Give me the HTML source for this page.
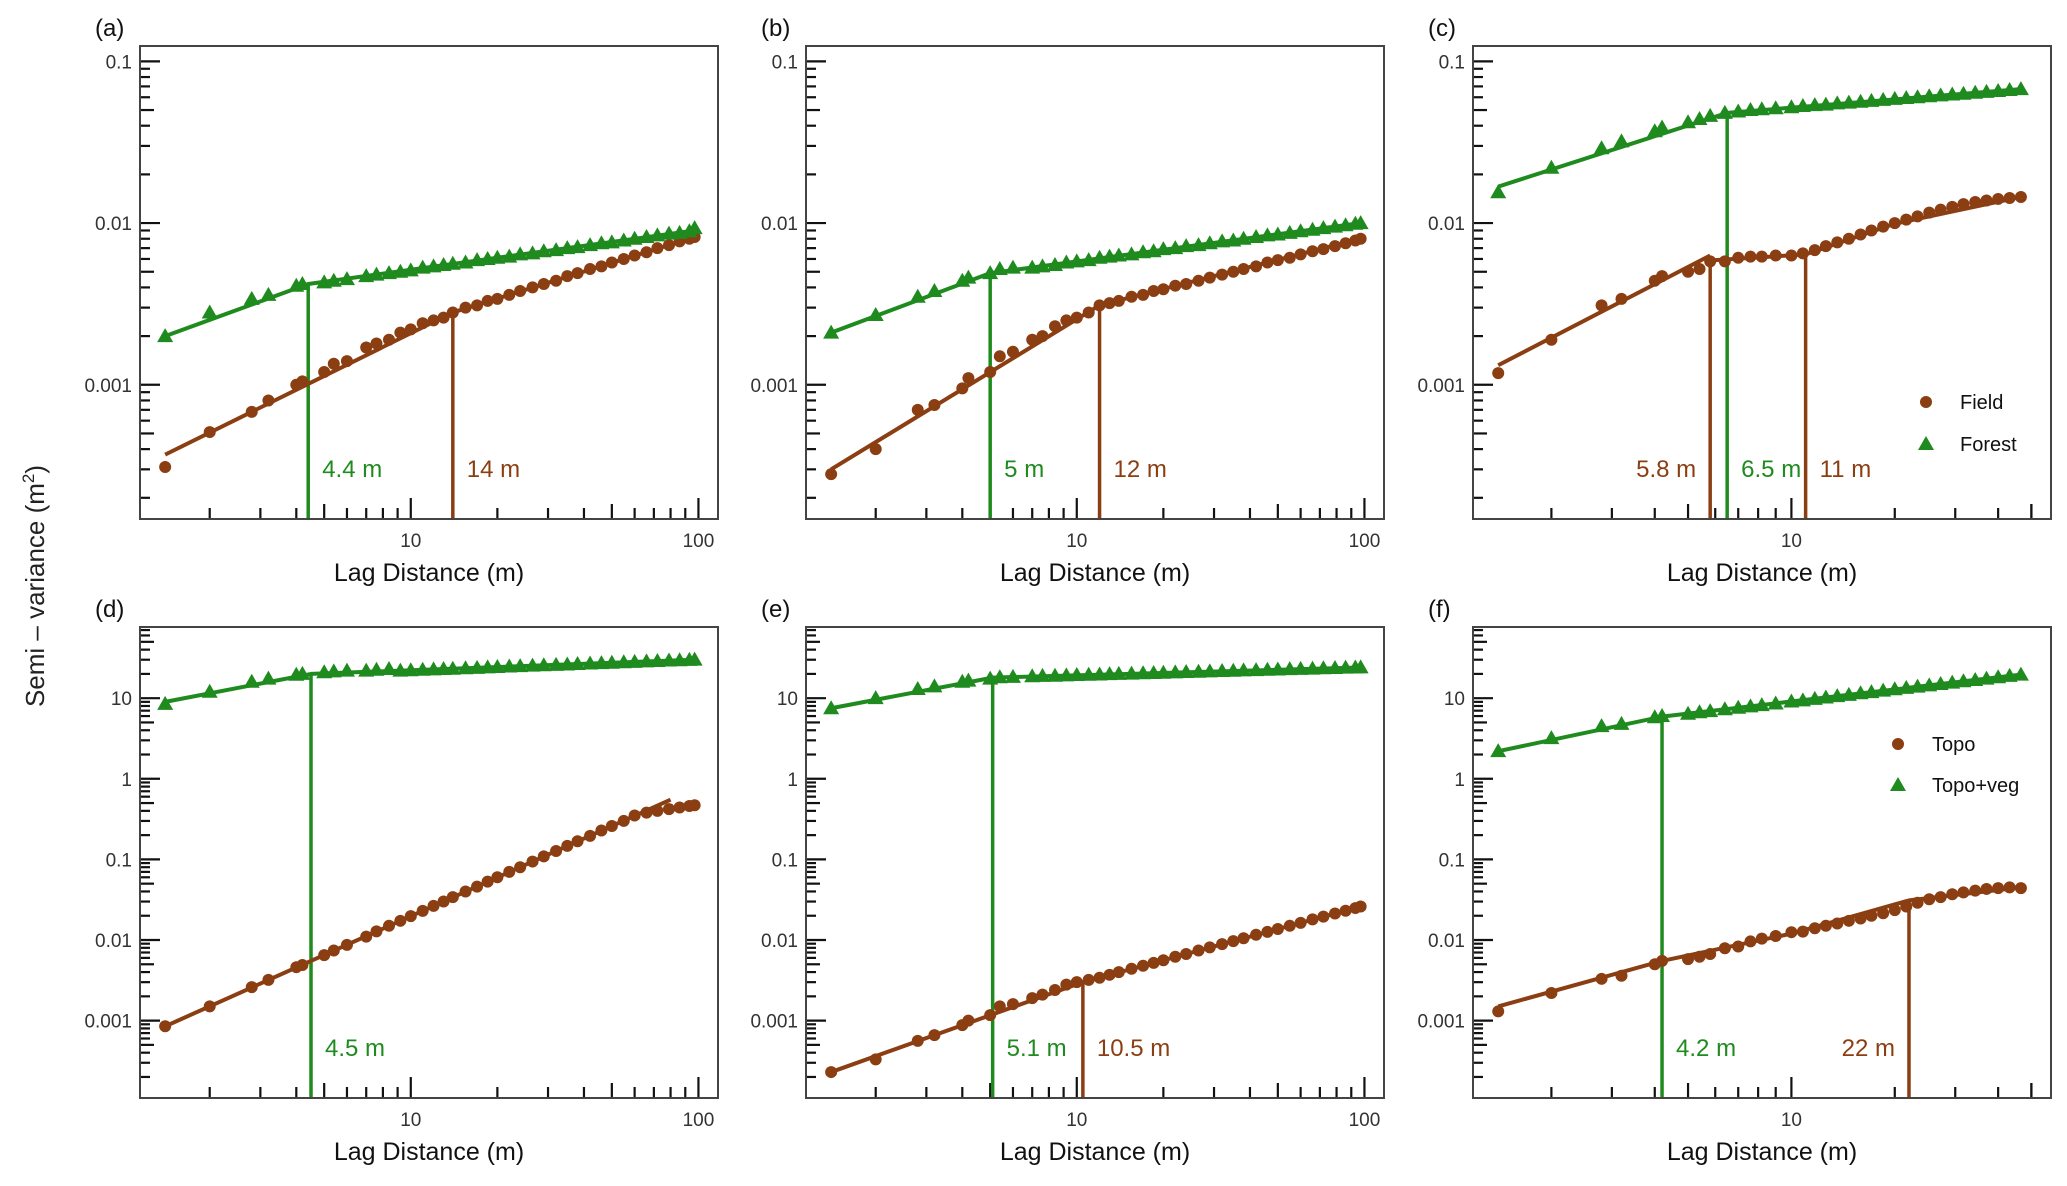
<!DOCTYPE html>
<html><head><meta charset="utf-8"><style>
html,body{margin:0;padding:0;background:#fff;}
svg{display:block;font-family:"Liberation Sans",Arial,sans-serif;}
</style></head><body>
<svg id="fig" width="2067" height="1186" viewBox="0 0 2067 1186" xmlns="http://www.w3.org/2000/svg">
<text x="0" y="0" transform="translate(44,586) rotate(-90)" text-anchor="middle" font-size="26" fill="#222">Semi – variance (m<tspan dy="-10" font-size="17">2</tspan><tspan dy="10">)</tspan></text>
</svg>
<script>
const L1 = [1.4,2,2.8,3.2,4,4.2,5,5.4,6,7,7.6,8.4,9.2,10,11,12,13,14,15.5,17,18.5,20,22,24,26.5,29,32,35,38,42,46,50,55,60,66,72,79,86,93,97];
const L2 = [1.4,2,2.8,3.2,4,4.2,5,5.4,5.8,6.4,7,7.6,8.2,9,10,10.8,11.7,12.6,13.6,14.7,15.9,17.1,18.5,20,21.6,23.3,25.2,27.2,29.4,31.7,34.3,37,40,43.2,46.6];

const aForest = [0.0020,0.0028,0.0034,0.0036,0.0041,0.0042,0.0043,0.0044,0.0045,0.0047,0.0048,0.0049,0.0050,0.0051,0.0053,0.0054,0.0055,0.0056,0.0057,0.0059,0.0060,0.0061,0.0062,0.0064,0.0065,0.0067,0.0068,0.0070,0.0071,0.0073,0.0075,0.0076,0.0078,0.0080,0.0082,0.0084,0.0086,0.0087,0.0089,0.0093];
const aField = [0.00031,0.00051,0.00068,0.0008,0.001,0.00105,0.0012,0.00135,0.0014,0.0017,0.0018,0.0019,0.0021,0.0022,0.0024,0.0025,0.0026,0.0028,0.0030,0.0031,0.0033,0.0034,0.0036,0.0038,0.0040,0.0042,0.0044,0.0047,0.0049,0.0052,0.0054,0.0057,0.0060,0.0063,0.0066,0.0070,0.0073,0.0077,0.0080,0.0082];
const bForest = [0.0021,0.0027,0.0035,0.0038,0.0044,0.0046,0.0049,0.0052,0.0053,0.0053,0.0054,0.0055,0.0057,0.0058,0.0059,0.0061,0.0062,0.0063,0.0064,0.0066,0.0067,0.0069,0.0070,0.0072,0.0073,0.0075,0.0077,0.0078,0.0080,0.0082,0.0084,0.0085,0.0087,0.0089,0.0091,0.0093,0.0095,0.0097,0.0099,0.0100];
const bField = [0.00028,0.0004,0.0007,0.00075,0.00095,0.0011,0.0012,0.0015,0.0016,0.0019,0.002,0.0023,0.0025,0.0026,0.0028,0.0031,0.0032,0.0033,0.0035,0.0036,0.0038,0.0039,0.0041,0.0042,0.0044,0.0046,0.0048,0.0050,0.0052,0.0054,0.0057,0.0059,0.0061,0.0064,0.0067,0.0069,0.0072,0.0075,0.0078,0.0080];
const cForest = [0.0155,0.022,0.029,0.032,0.037,0.039,0.042,0.044,0.046,0.048,0.049,0.050,0.0506,0.0513,0.052,0.053,0.0536,0.054,0.055,0.0556,0.0563,0.057,0.0578,0.0586,0.0593,0.060,0.0608,0.0616,0.0624,0.063,0.064,0.0648,0.0656,0.0665,0.0673];
const cField = [0.00118,0.0019,0.0031,0.0034,0.0044,0.0047,0.0050,0.0052,0.0058,0.0058,0.0061,0.0062,0.0062,0.0063,0.0063,0.0065,0.0068,0.0072,0.0076,0.0080,0.0085,0.0090,0.0095,0.0100,0.0105,0.0110,0.0116,0.0121,0.0126,0.0131,0.0135,0.0138,0.0141,0.0143,0.0145];
const dVeg = [8.5,12,16,17.5,19.5,20,21,21.5,22,22,22.5,23,22,22.2,22.5,22.8,23,23.2,23.5,23.8,24.1,24.4,24.7,25,25.3,25.6,25.9,26.2,26.5,26.9,27.2,27.5,27.9,28.2,28.6,28.9,29.3,29.6,29.9,30.1];
const dTopo = [0.00085,0.0015,0.0026,0.0032,0.0046,0.0049,0.0065,0.0074,0.0087,0.011,0.0128,0.015,0.0173,0.0198,0.023,0.0265,0.030,0.034,0.040,0.046,0.053,0.060,0.070,0.080,0.094,0.109,0.127,0.147,0.168,0.196,0.228,0.26,0.30,0.35,0.38,0.40,0.42,0.44,0.46,0.47];
const eVeg = [7.5,10,13,14,16,16.5,17.5,18.2,18.4,18.7,18.9,19.0,19.2,19.4,19.5,19.7,19.9,20.0,20.2,20.4,20.5,20.7,20.9,21.1,21.3,21.5,21.7,21.9,22.1,22.3,22.5,22.7,22.9,23.1,23.3,23.5,23.7,23.9,24.0,24.1];
const eTopo = [0.00023,0.00033,0.00056,0.00066,0.00088,0.001,0.00117,0.0015,0.0016,0.0019,0.0021,0.0024,0.0028,0.003,0.0032,0.0034,0.0037,0.0040,0.0044,0.0048,0.0052,0.0056,0.0062,0.0067,0.0074,0.0081,0.0089,0.0097,0.0105,0.0116,0.0126,0.0137,0.0150,0.0163,0.018,0.0195,0.0213,0.0231,0.0249,0.026];
const fVeg = [2.2,3.2,4.5,4.8,5.8,6.0,6.4,6.7,6.9,7.3,7.6,7.9,8.2,8.6,9.1,9.4,9.8,10.2,10.6,11.0,11.5,11.9,12.4,12.9,13.4,13.9,14.4,15.0,15.6,16.2,16.8,17.5,18.2,18.9,19.6];
const fTopo = [0.0013,0.0022,0.0033,0.0036,0.0050,0.0055,0.0058,0.0062,0.0067,0.0079,0.0083,0.0096,0.0104,0.0112,0.0125,0.0127,0.0140,0.0150,0.0160,0.0173,0.0185,0.0200,0.0215,0.0235,0.026,0.029,0.032,0.034,0.037,0.039,0.041,0.043,0.044,0.045,0.044];

const aForestFit = [[1.4,0.0020],[4.4,0.0042],[97,0.0090]];
const aFieldFit = [[1.4,0.00037],[14,0.0028],[97,0.0082]];
const bForestFit = [[1.4,0.0021],[5,0.0049],[97,0.0100]];
const bFieldFit = [[1.4,0.0003],[12,0.0031],[97,0.0080]];
const cForestFit = [[1.4,0.0168],[6.5,0.048],[46.6,0.0673]];
const cFieldFit = [[1.4,0.00132],[5.8,0.0063]];
const cFieldFit2 = [[6,0.0059],[11,0.0064],[20,0.0099],[46.6,0.0145]];
const dVegFit = [[1.4,9],[4.5,20],[97,30]];
const dTopoFit = [[1.4,0.00085],[80,0.55]];
const eVegFit = [[1.4,7.5],[5.1,18],[97,24]];
const eTopoFit = [[1.4,0.00023],[10.5,0.003],[97,0.026]];
const fVegFit = [[1.4,2.2],[4.2,5.9],[46.6,19.6]];
const fTopoFit = [[1.4,0.0015],[4.2,0.0055],[10,0.012],[22,0.031],[46.6,0.045]];

const topTicks = [0.001,0.01,0.1];
const bottomTicks = [0.001,0.01,0.1,1,10];
const xTicksA = [10,100];
const xTicksC = [10];

const GREEN = "#1f8b1f", BROWN = "#8b3e12";
const svg = document.getElementById('fig');
const NS = "http://www.w3.org/2000/svg";
function mk(tag, attrs, parent){ const e=document.createElementNS(NS,tag); for(const k in attrs) e.setAttribute(k,attrs[k]); (parent||svg).appendChild(e); return e; }

const TOPY=46, TOPH=473, TOPR=[-3.83,-0.905];
const BOTY=627, BOTH=471, BOTR=[-3.96,1.883];
const panels = [
 {id:'a',x:140,y:TOPY,h:TOPH,xr:[0.0587,2.068],yr:TOPR,yt:topTicks,xt:xTicksA,
  series:[[L1,aField,BROWN,'circle','field'],[L1,aForest,GREEN,'tri','forest']],
  fits:[[aFieldFit,BROWN],[aForestFit,GREEN]],
  ranges:[[4.4,aForestFit,GREEN,'r'],[14,aFieldFit,BROWN,'r']]},
 {id:'b',x:806,y:TOPY,h:TOPH,xr:[0.0587,2.068],yr:TOPR,yt:topTicks,xt:xTicksA,
  series:[[L1,bField,BROWN,'circle','field'],[L1,bForest,GREEN,'tri','forest']],
  fits:[[bFieldFit,BROWN],[bForestFit,GREEN]],
  ranges:[[5,bForestFit,GREEN,'r'],[12,bFieldFit,BROWN,'r']]},
 {id:'c',x:1473,y:TOPY,h:TOPH,xr:[0.0727,1.756],yr:TOPR,yt:topTicks,xt:xTicksC,
  series:[[L2,cField,BROWN,'circle','field'],[L2,cForest,GREEN,'tri','forest']],
  fits:[[cFieldFit,BROWN],[cFieldFit2,BROWN],[cForestFit,GREEN]],
  ranges:[[5.8,cFieldFit,BROWN,'l'],[6.5,cForestFit,GREEN,'r'],[11,cFieldFit2,BROWN,'r']],
  legend:['Field','Forest']},
 {id:'d',x:140,y:BOTY,h:BOTH,xr:[0.0587,2.068],yr:BOTR,yt:bottomTicks,xt:xTicksA,
  series:[[L1,dTopo,BROWN,'circle','topo'],[L1,dVeg,GREEN,'tri','topo-veg']],
  fits:[[dTopoFit,BROWN],[dVegFit,GREEN]],
  ranges:[[4.5,dVegFit,GREEN,'r']]},
 {id:'e',x:806,y:BOTY,h:BOTH,xr:[0.0587,2.068],yr:BOTR,yt:bottomTicks,xt:xTicksA,
  series:[[L1,eTopo,BROWN,'circle','topo'],[L1,eVeg,GREEN,'tri','topo-veg']],
  fits:[[eTopoFit,BROWN],[eVegFit,GREEN]],
  ranges:[[5.1,eVegFit,GREEN,'r'],[10.5,eTopoFit,BROWN,'r']]},
 {id:'f',x:1473,y:BOTY,h:BOTH,xr:[0.0727,1.756],yr:BOTR,yt:bottomTicks,xt:xTicksC,
  series:[[L2,fTopo,BROWN,'circle','topo'],[L2,fVeg,GREEN,'tri','topo-veg']],
  fits:[[fTopoFit,BROWN],[fVegFit,GREEN]],
  ranges:[[4.2,fVegFit,GREEN,'r'],[22,fTopoFit,BROWN,'l']],
  legend:['Topo','Topo+veg']}
];
const W=578;

function interp(fit, v){
  const lv=Math.log10(v);
  for(let i=0;i<fit.length-1;i++){
    const a=Math.log10(fit[i][0]), b=Math.log10(fit[i+1][0]);
    if(lv>=a-1e-9 && lv<=b+1e-9){ const t=(lv-a)/(b-a); return Math.log10(fit[i][1])+t*(Math.log10(fit[i+1][1])-Math.log10(fit[i][1])); }
  }
  return Math.log10(fit[fit.length-1][1]);
}

panels.forEach(p=>{
  const H=p.h;
  const g = mk('g',{});
  
  
  const sx = v => p.x + (Math.log10(v)-p.xr[0])/(p.xr[1]-p.xr[0])*W;
  const sy = v => p.y + H - (Math.log10(v)-p.yr[0])/(p.yr[1]-p.yr[0])*H;
  const syl = l => p.y + H - (l-p.yr[0])/(p.yr[1]-p.yr[0])*H;
  const bottom = p.y+H;

  const lt = mk('text',{x:p.x-45,y:p.y-10,'font-size':24,fill:'#111'},g);
  lt.textContent='('+p.id+')';
  
  

  const yAxis = mk('g',{},g);
  
  
  for(let d=Math.floor(p.yr[0]); d<=Math.ceil(p.yr[1]); d++){
    for(let m=1;m<=9;m++){
      const l = d+Math.log10(m);
      if(l<p.yr[0]||l>p.yr[1]) continue;
      const y=syl(l);
      mk('line',{x1:p.x,x2:p.x+(m==1?20:(m==5?14:10)),y1:y,y2:y,stroke:'#111','stroke-width':2.2},yAxis);
    }
  }
  p.yt.forEach(v=>{
    const t=mk('text',{x:p.x-8,y:sy(v)+7,'text-anchor':'end','font-size':19,fill:'#333'},yAxis);
    t.textContent=String(v);
    
    
  });

  const xAxis = mk('g',{},g);
  
  
  for(let d=0; d<=2; d++){
    for(let m=1;m<=9;m++){
      const l=d+Math.log10(m);
      if(l<p.xr[0]||l>p.xr[1]) continue;
      const x=sx(Math.pow(10,l));
      mk('line',{x1:x,x2:x,y1:bottom,y2:bottom-(m==1?21:(m==5?15:11)),stroke:'#111','stroke-width':2.2},xAxis);
    }
  }
  if(p.xr[1]<2){ const x=sx(50); mk('line',{x1:x,x2:x,y1:bottom,y2:bottom-15,stroke:'#111','stroke-width':2.2},xAxis); }
  p.xt.forEach(v=>{
    const t=mk('text',{x:sx(v),y:bottom+28,'text-anchor':'middle','font-size':19,fill:'#333'},xAxis);
    t.textContent=String(v);
    
    
  });
  const xt=mk('text',{x:p.x+W/2,y:bottom+62,'text-anchor':'middle','font-size':25,fill:'#111'},g);
  xt.textContent='Lag Distance (m)';
  
  

  p.ranges.forEach(r=>{
    const x=sx(r[0]);
    const top=syl(interp(r[1],r[0]));
    const ln=mk('line',{x1:x,x2:x,y1:bottom,y2:top,stroke:r[2],'stroke-width':3.5},g);
    
    
    const t=mk('text',{x:r[3]=='r'?x+14:x-14,y:bottom-42,'text-anchor':r[3]=='r'?'start':'end','font-size':24,fill:r[2]},g);
    t.textContent=r[0]+' m';
    
    
  });

  p.fits.forEach(f=>{
    const pl=mk('polyline',{points:f[0].map(q=>sx(q[0])+','+sy(q[1])).join(' '),fill:'none',stroke:f[1],'stroke-width':4,'stroke-linejoin':'round'},g);
    
    
  });

  p.series.forEach(s=>{
    const sg=mk('g',{fill:s[2]},g);
    
    
    s[0].forEach((lag,i)=>{
      const x=sx(lag), y=sy(s[1][i]);
      let el;
      if(s[3]=='circle') el=mk('circle',{cx:x,cy:y,r:6},sg);
      else el=mk('polygon',{points:`${x},${y-8} ${x-8},${y+6} ${x+8},${y+6}`},sg);
      
      
    });
  });

  if(p.legend){
    const lg=mk('g',{},g);
    
    
    const lx = p.id=='c' ? 1926 : 1898;
    const ly1 = p.id=='c' ? 402 : 744, ly2 = p.id=='c' ? 444 : 785;
    mk('circle',{cx:lx,cy:ly1,r:6,fill:BROWN},lg);
    mk('polygon',{points:`${lx},${ly2-8} ${lx-8},${ly2+6} ${lx+8},${ly2+6}`,fill:GREEN},lg);
    const t1=mk('text',{x:lx+34,y:ly1+7,'font-size':20,fill:'#111'},lg); t1.textContent=p.legend[0];
    
    
    const t2=mk('text',{x:lx+34,y:ly2+7,'font-size':20,fill:'#111'},lg); t2.textContent=p.legend[1];
    
    
  }

  const fr=mk('rect',{x:p.x,y:p.y,width:W,height:H,fill:'none',stroke:'#444','stroke-width':2},g);
  
  
});
</script>
</body></html>
